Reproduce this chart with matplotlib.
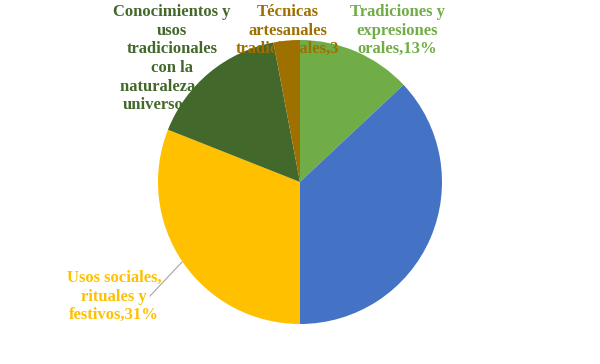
import matplotlib
matplotlib.use("Agg")
import matplotlib.pyplot as plt

categories = ["Tradiciones y expresiones orales", "Artes del espectáculo",
              "Usos sociales, rituales y festivos",
              "Conocimientos y usos tradicionales con la naturaleza y el universo",
              "Técnicas artesanales tradicionales"]
values = [13, 37, 31, 16, 3]
label_text = ["Tradiciones y\nexpresiones\norales,{}%", None,
              "Usos sociales,\nrituales y\nfestivos,{}%",
              "Conocimientos y\nusos\ntradicionales\ncon la\nnaturaleza y el\nuniverso,{}%",
              "Técnicas\nartesanales\ntradicionales,{}\n%"]
colors = ["#70AD47", "#4472C4", "#FFC000", "#43682B", "#9E7000"]
label_colors = ["#70AD47", None, "#FFC000", "#43682B", "#9E7000"]
label_pos = [(397, 4), None, (114, 270), (172, 4), (288, 4)]

W, H = 600, 364
fig = plt.figure(figsize=(6, 3.64), dpi=100)
ax = fig.add_axes([0, 0, 1, 1])
ax.set_xlim(0, W)
ax.set_ylim(0, H)
ax.set_aspect("equal")
ax.axis("off")

wedges, _ = ax.pie(values, colors=colors, startangle=90, counterclock=False,
                   center=(300, H - 182), radius=142,
                   wedgeprops=dict(linewidth=0, zorder=2))
ax.set_xlim(0, W)
ax.set_ylim(0, H)

for t, c, p, v in zip(label_text, label_colors, label_pos, values):
    if t is None:
        continue
    ax.text(p[0], H - p[1], t.format(v), color=c, ha="center", va="top",
            fontsize=12, fontweight="bold", family="Liberation Serif",
            linespacing=1.22, zorder=3)

# leader line for Usos sociales
ax.plot([182, 150], [H - 262, H - 296], color="#A6A6A6", lw=0.8, zorder=1.5)

fig.savefig("out.png", dpi=100)
